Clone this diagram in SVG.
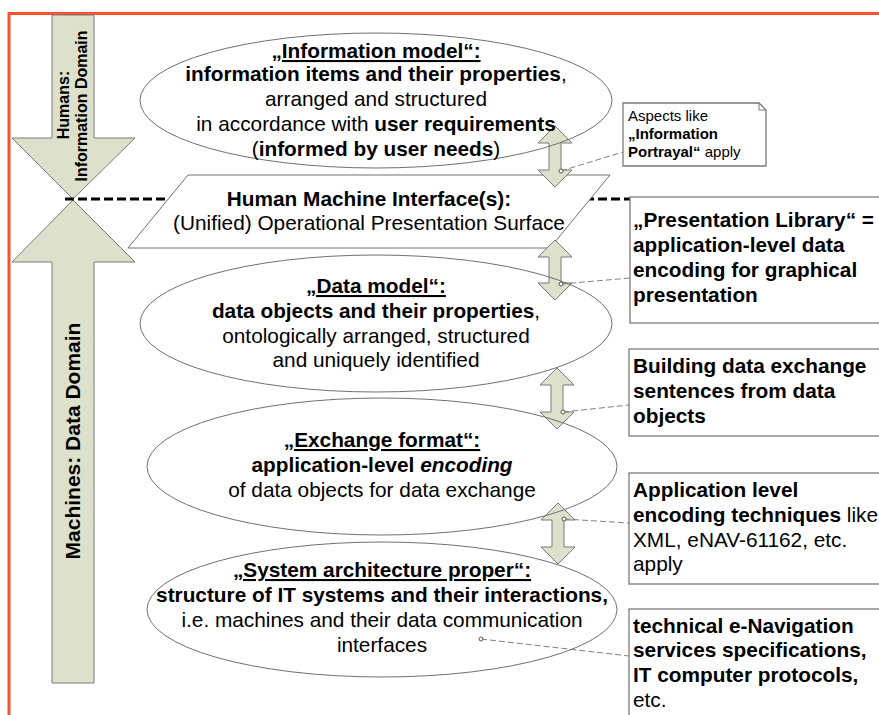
<svg xmlns="http://www.w3.org/2000/svg" width="879" height="715" viewBox="0 0 879 715">
<style>
text{font-family:"Liberation Sans",Arial,sans-serif;fill:#000}
.t{font-size:20.8px}
.b{font-weight:bold}
.u{text-decoration:underline}
.m{text-anchor:middle}
.big{fill:#dde0cb;stroke:#7a7a7a;stroke-width:1}
.ell{fill:none;stroke:#707070;stroke-width:1}
.box{fill:#fff;stroke:#7a7a7a;stroke-width:1.3}
.dbl{fill:#dde0cb;stroke:#7a7a7a;stroke-width:1}
.lead{fill:none;stroke:#808080;stroke-width:1;stroke-dasharray:6 3}
.dot{fill:#fff;stroke:#555;stroke-width:1}
</style>
<rect x="0" y="0" width="879" height="715" fill="#fff"/>
<path d="M9,715 V13.5 H879" fill="none" stroke="#f4532f" stroke-width="3"/>
<g id="humans-domain">
<polygon class="big" points="52,15 94,15 94,138 135,138 73,199 12,138 52,138"/>
<text class="b" font-size="16" text-anchor="middle" transform="translate(69,105) rotate(-90)">Humans:</text>
<text class="b" font-size="16" text-anchor="middle" transform="translate(87,106) rotate(-90)">Information Domain</text>
</g>
<g id="machines-domain">
<polygon class="big" points="73,200 135,262 94,262 94,683 52,683 52,262 12,262"/>
<text class="b" font-size="21" text-anchor="middle" transform="translate(80,441) rotate(-90)">Machines: Data Domain</text>
</g>
<g id="separator">
<line x1="65" y1="199" x2="657" y2="199" stroke="#000" stroke-width="3" stroke-dasharray="9 4"/>
</g>
<g id="hmi">
<polygon points="188,175 610,175 550,248 128,248" fill="#fff" stroke="#707070" stroke-width="1"/>
<text class="t b m" x="369" y="206">Human Machine Interface(s):</text>
<text class="t m" x="369" y="230">(Unified) Operational Presentation Surface</text>
</g>
<g id="connectors">
<polygon class="dbl" points="555,126 572,143 561,143 561,170 572,170 555,187 538,170 549,170 549,143 538,143"/>
<polygon class="dbl" points="555,240 572,257 561,257 561,283 572,283 555,300 538,283 549,283 549,257 538,257"/>
<polygon class="dbl" points="557,368 574,385 563,385 563,412 574,412 557,429 540,412 551,412 551,385 540,385"/>
<polygon class="dbl" points="558,503 575,520 564,520 564,547 575,547 558,564 541,547 552,547 552,520 541,520"/>
<path class="lead" d="M561,171 L623,152"/>
<path class="lead" d="M561,284 L630,278"/>
<path class="lead" d="M563,412 L629,405"/>
<path class="lead" d="M564,519 L629,523"/>
<path class="lead" d="M481,639 L629,656"/>
<circle class="dot" cx="561" cy="171" r="2"/>
<circle class="dot" cx="561" cy="284" r="2"/>
<circle class="dot" cx="563" cy="412" r="2"/>
<circle class="dot" cx="564" cy="519" r="2"/>
<circle class="dot" cx="481" cy="639" r="2"/>
</g>
<g id="information-model">
<ellipse class="ell" cx="376" cy="100.5" rx="236" ry="67.5"/>
<text class="t b u m" x="376" y="58">„Information model“:</text>
<text class="t m" x="376" y="81"><tspan class="b">information items and their properties</tspan>,</text>
<text class="t m" x="376" y="106">arranged and structured</text>
<text class="t m" x="376" y="131">in accordance with <tspan class="b">user requirements</tspan></text>
<text class="t m" x="376" y="156">(<tspan class="b">informed by user needs</tspan>)</text>
</g>
<g id="data-model">
<ellipse class="ell" cx="376" cy="323.5" rx="236" ry="68.5"/>
<text class="t b u m" x="376" y="293">„Data model“:</text>
<text class="t m" x="376" y="318"><tspan class="b">data objects and their properties</tspan>,</text>
<text class="t m" x="376" y="343">ontologically arranged, structured</text>
<text class="t m" x="376" y="367">and uniquely identified</text>
</g>
<g id="exchange-format">
<ellipse class="ell" cx="382" cy="466.5" rx="235" ry="68.5"/>
<text class="t b u m" x="382" y="447">„Exchange format“:</text>
<text class="t b m" x="382" y="472">application-level <tspan font-style="italic">encoding</tspan></text>
<text class="t m" x="382" y="497">of data objects for data exchange</text>
</g>
<g id="system-architecture">
<ellipse class="ell" cx="382" cy="609.5" rx="235" ry="67.5"/>
<text class="t b u m" x="382" y="577">„System architecture proper“:</text>
<text class="t b m" x="382" y="602">structure of IT systems and their interactions,</text>
<text class="t m" x="382" y="627">i.e. machines and their data communication</text>
<text class="t m" x="382" y="652">interfaces</text>
</g>
<g id="note-portrayal">
<path class="box" d="M623,103 H759 L766,110 V166 H623 Z"/>
<path d="M759,103 V110 H766" fill="none" stroke="#7a7a7a" stroke-width="1"/>
<text font-size="15" x="628" y="121">Aspects like</text>
<text font-size="15" x="628" y="139" class="b">„Information</text>
<text font-size="15" x="628" y="157"><tspan class="b">Portrayal“</tspan> apply</text>
</g>
<g id="note-presentation-library">
<rect class="box" x="630" y="197" width="260" height="126"/>
<text class="t b" x="633" y="227">„Presentation Library“ =</text>
<text class="t b" x="633" y="252">application-level data</text>
<text class="t b" x="633" y="277">encoding for graphical</text>
<text class="t b" x="633" y="302">presentation</text>
</g>
<g id="note-sentences">
<rect class="box" x="629" y="349" width="260" height="87"/>
<text class="t b" x="633" y="373">Building data exchange</text>
<text class="t b" x="633" y="398">sentences from data</text>
<text class="t b" x="633" y="423">objects</text>
</g>
<g id="note-encoding">
<rect class="box" x="629" y="473" width="260" height="111"/>
<text class="t b" x="633" y="497">Application level</text>
<text class="t" x="633" y="522"><tspan class="b">encoding techniques</tspan> like</text>
<text class="t" x="633" y="547">XML, eNAV-61162, etc.</text>
<text class="t" x="633" y="571">apply</text>
</g>
<g id="note-technical">
<rect class="box" x="629" y="609" width="260" height="120"/>
<text class="t b" x="633" y="633">technical e-Navigation</text>
<text class="t b" x="633" y="657">services specifications,</text>
<text class="t b" x="633" y="682">IT computer protocols,</text>
<text class="t" x="633" y="707">etc.</text>
</g>
</svg>
